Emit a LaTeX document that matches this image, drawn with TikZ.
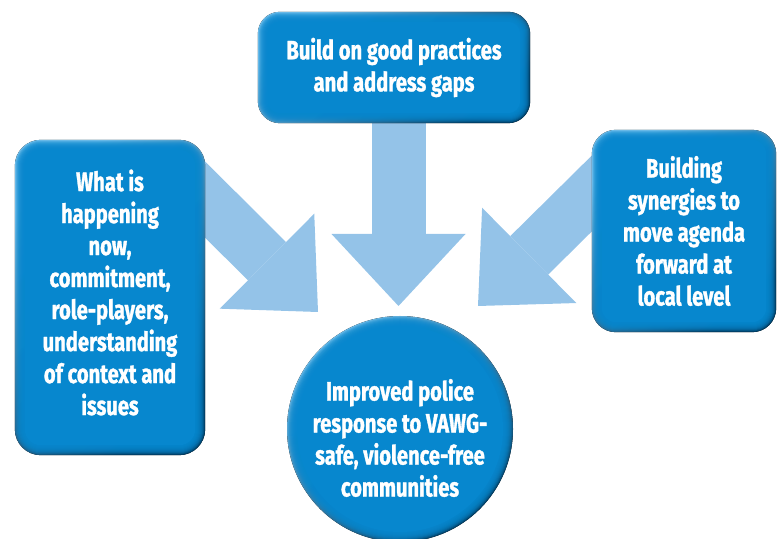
\documentclass[tikz,border=0pt]{standalone}
\usepackage{fontspec}
\newfontfamily\padfont[FakeStretch=0.76,BoldFeatures={FakeBold=1.2}]{Fira Sans}
\usetikzlibrary{arrows.meta,calc}
\definecolor{padblue}{HTML}{0787CE}
\definecolor{padlite}{HTML}{6CBCEA}
\definecolor{paddark}{HTML}{003F66}
\definecolor{flowblue}{HTML}{94C3E8}
\pgfdeclarelayer{flowlayer}
\pgfdeclarelayer{padlayer}
\pgfsetlayers{flowlayer,padlayer,main}
\tikzset{
  pad/.style={rectangle, text=white, align=center,
    font=\padfont\bfseries\fontsize{26.5}{32}\selectfont},
  flow/.style={draw=flowblue, line width=54pt,
    -{Triangle[length=72pt,width=134pt,line width=0pt]}}
}
% bevelled box behind a named node: #1 name, #2 corner radius
\newcommand\padbevel[2]{%
  \begin{pgfonlayer}{padlayer}
    \fill[rounded corners=#2pt, top color=padlite, bottom color=paddark,
      shading angle=40] (#1.south west) rectangle (#1.north east);
    \foreach \k in {1,...,9}{
      \pgfmathsetmacro\rr{#2-\k}
      \fill[padblue, fill opacity=0.3, rounded corners=\rr pt]
        ($(#1.south west)+(\k,\k)$) rectangle ($(#1.north east)-(\k,\k)$);
    }
    \pgfmathsetmacro\rr{#2-10}
    \fill[padblue, rounded corners=\rr pt]
      ($(#1.south west)+(10,10)$) rectangle ($(#1.north east)-(10,10)$);
  \end{pgfonlayer}}
\begin{document}
\begin{tikzpicture}[x=1pt,y=1pt]
\useasboundingbox (0,0) rectangle (778,538);

% boxes
\node[pad, minimum width=272pt, minimum height=111pt] (build) at (394,470.5)
  {Build on good practices\\and address gaps};
\node[pad, minimum width=190pt, minimum height=315pt] (now) at (110,240.5) {};
\node[pad] (nowtext) at (110,245.5)
  {What is\\happening\\now,\\commitment,\\role-players,\\understanding\\of context and\\issues};
\node[pad, minimum width=184pt, minimum height=202pt] (synergy) at (684,307)
  {Building\\synergies to\\move agenda\\forward at\\local level};
\node[pad, circle, minimum size=226pt] (result) at (400,109) {};
\node[pad] (resulttext) at (400,100)
  {Improved police\\response to VAWG-\\safe, violence-free\\communities};

\padbevel{build}{22}
\padbevel{now}{26}
\padbevel{synergy}{24}

\begin{pgfonlayer}{padlayer}
  \fill[top color=padlite, bottom color=paddark, shading angle=40]
    (result) circle (113);
  \foreach \k in {1,...,9}
    \fill[padblue, fill opacity=0.3] (result) circle ({113-\k});
  \fill[padblue] (result) circle (103);
\end{pgfonlayer}

% arrows into the result
\coordinate (buildtip) at (398.5,232);
\coordinate (nowtip) at (318,226);
\coordinate (synergytip) at (478,232);
\begin{pgfonlayer}{flowlayer}
  \draw[flow] ([xshift=4.5pt]build.center) -- (buildtip);
  \draw[flow] ($(now.north east)+(-25,-35)$) -- (nowtip);
  \draw[flow] ($(synergy.north west)+(25,-39)$) -- (synergytip);
\end{pgfonlayer}
\end{tikzpicture}
\end{document}
